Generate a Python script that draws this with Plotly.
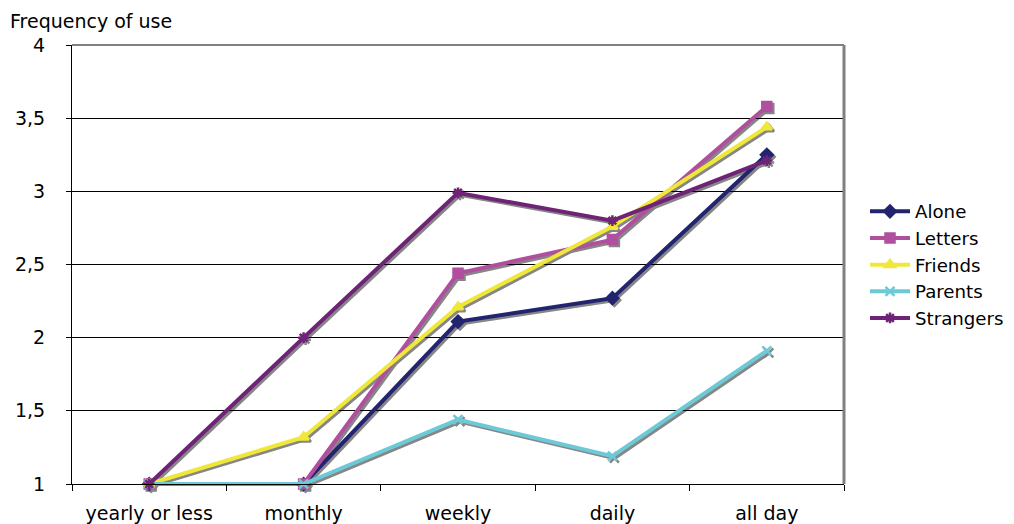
import plotly.graph_objects as go

categories = ["yearly or less", "monthly", "weekly", "daily", "all day"]

alone = [1.0, 1.0, 2.11, 2.27, 3.25]
letters = [1.0, 1.0, 2.44, 2.67, 3.58]
friends = [1.0, 1.32, 2.21, 2.76, 3.44]
parents = [1.0, 1.0, 1.44, 1.19, 1.91]
strangers = [1.0, 2.0, 2.99, 2.80, 3.21]

series = [
    ("Alone", alone, "#232470", "diamond"),
    ("Letters", letters, "#b14f9f", "square"),
    ("Friends", friends, "#efe83a", "triangle-up"),
    ("Parents", parents, "#6ccad7", "x-thin-open"),
    ("Strangers", strangers, "#6e2377", "asterisk-open"),
]

FONT = "DejaVu Sans"
FS = 19
SHADOW = "#868686"

# plot area geometry (px)
W, H = 1014, 524
L, R, T, B = 72, 168, 45, 38
pw = W - L - R
ph = H - T - B
off = 2  # shadow offset in px


def px_to_paper(px, py):
    return (px - L) / pw, (H - B - py) / ph


fig = go.Figure()

# gray drop shadows on a slightly shifted copy of the axes
for name, vals, color, sym in series:
    fig.add_trace(go.Scatter(
        x=categories, y=vals, xaxis="x", yaxis="y",
        mode="lines+markers", showlegend=False, hoverinfo="skip",
        line=dict(color=SHADOW, width=4),
        marker=dict(symbol=sym, size=9, color=SHADOW,
                    line=dict(color=SHADOW, width=2.5)),
        cliponaxis=False,
    ))

# coloured series
for name, vals, color, sym in series:
    fig.add_trace(go.Scatter(
        x=categories, y=vals, xaxis="x2", yaxis="y2",
        mode="lines+markers", name=name,
        line=dict(color=color, width=4),
        marker=dict(symbol=sym, size=9, color=color,
                    line=dict(color=color, width=2.5)),
        cliponaxis=False,
    ))

tx, ty = px_to_paper(8, 21)

fig.update_layout(
    width=W, height=H,
    margin=dict(l=L, r=R, t=T, b=B),
    paper_bgcolor="white",
    plot_bgcolor="rgba(0,0,0,0)",
    separators=",.",
    font=dict(family=FONT, size=FS, color="#000000"),
    xaxis=dict(domain=[off / pw, 1], type="category",
               categoryarray=categories, range=[-0.5, 4.5],
               visible=False, fixedrange=True),
    yaxis=dict(domain=[0, (ph - off) / ph], range=[1, 4],
               visible=False, fixedrange=True),
    xaxis2=dict(domain=[0, (pw - off) / pw], anchor="y2", type="category",
                categoryarray=categories, range=[-0.5, 4.5],
                showgrid=False, showline=True, linecolor="#000000",
                linewidth=1, ticks="outside", tickson="boundaries",
                ticklen=6, tickcolor="#000000", ticklabelstandoff=12,
                zeroline=False, fixedrange=True, automargin=False),
    yaxis2=dict(domain=[off / ph, 1], anchor="x2", range=[1, 4],
                dtick=0.5, tick0=1, showgrid=True, gridcolor="#000000",
                gridwidth=1, showline=True, linecolor="#000000",
                linewidth=1, ticks="outside", ticklen=5,
                tickcolor="#000000", ticklabelstandoff=17,
                zeroline=False, fixedrange=True, automargin=False),
    legend=dict(x=865 / W, y=1 - 193 / H, xref="container", yref="container",
                xanchor="left", yanchor="top", bgcolor="rgba(0,0,0,0)",
                font=dict(family=FONT, size=18.2), itemwidth=40,
                tracegroupgap=0),
    showlegend=True,
    annotations=[dict(
        text="Frequency of use", xref="paper", yref="paper",
        x=tx, y=ty, xanchor="left", yanchor="middle",
        showarrow=False, font=dict(family=FONT, size=FS),
    )],
    shapes=[
        # plot area border (top and right)
        dict(type="line", xref="x2 domain", yref="y2 domain",
             x0=0, x1=1, y0=1, y1=1, line=dict(color="#808080", width=2)),
        dict(type="line", xref="x2 domain", yref="y2 domain",
             x0=1, x1=1, y0=0, y1=1, line=dict(color="#808080", width=3)),
    ],
)

fig.write_html("out.html")
